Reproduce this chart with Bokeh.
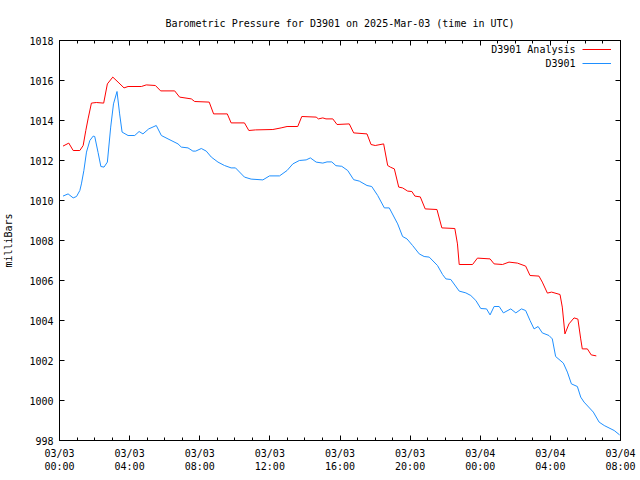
import pandas as pd
from bokeh.plotting import figure
from bokeh.models import (Range1d, LinearAxis, FixedTicker, CustomJSTickFormatter,
                          Legend, LegendItem, Label, ColumnDataSource)
from bokeh.core.properties import value
from bokeh.embed import file_html
from bokeh.resources import INLINE

TITLE = "Barometric Pressure for D3901 on 2025-Mar-03 (time in UTC)"
Y_LABEL = "milliBars"
SERIES_NAMES = ["D3901 Analysis", "D3901"]

# hours after 2025-03-03 00:00 UTC
analysis_hours = [0.2, 0.53, 0.78, 1.16, 1.35, 1.5, 1.63, 1.82, 2.1, 2.52, 2.73, 3.04, 3.34, 3.68,
                  3.91, 4.67, 4.95, 5.47, 5.77, 6.57, 6.85, 7.52, 7.71, 8.54, 8.79, 9.57, 9.79,
                  10.55, 10.8, 11.18, 12.17, 12.64, 12.98, 13.59, 13.82, 14.64, 14.77, 15.02,
                  15.2, 15.59, 15.83, 16.53, 16.78, 17.54, 17.77, 18.01, 18.49, 18.72, 18.87,
                  19.1, 19.35, 19.57, 19.86, 20.1, 20.27, 20.58, 20.86, 21.53, 21.81, 22.55,
                  22.7, 22.8, 23.56, 23.84, 24.56, 24.79, 25.27, 25.64, 26.12, 26.59, 26.84,
                  27.35, 27.54, 27.83, 28.07, 28.55, 28.68, 28.83, 29.06, 29.35, 29.57, 29.73,
                  29.82, 30.11, 30.33, 30.62]
analysis_mbar = [1012.72, 1012.87, 1012.5, 1012.5, 1012.75, 1013.5, 1014.08, 1014.87, 1014.9,
                 1014.87, 1015.83, 1016.17, 1015.92, 1015.63, 1015.7, 1015.7, 1015.78, 1015.75,
                 1015.48, 1015.48, 1015.17, 1015.08, 1014.95, 1014.92, 1014.33, 1014.33,
                 1013.88, 1013.88, 1013.5, 1013.53, 1013.55, 1013.63, 1013.7, 1013.7, 1014.2,
                 1014.17, 1014.08, 1014.13, 1014.08, 1014.08, 1013.8, 1013.83, 1013.38,
                 1013.33, 1012.8, 1012.75, 1012.83, 1011.75, 1011.67, 1011.58, 1010.67,
                 1010.63, 1010.47, 1010.45, 1010.22, 1010.18, 1009.58, 1009.55, 1008.63,
                 1008.6, 1007.83, 1006.8, 1006.8, 1007.12, 1007.08, 1006.83, 1006.8, 1006.92,
                 1006.87, 1006.72, 1006.25, 1006.22, 1005.92, 1005.37, 1005.42, 1005.3,
                 1004.67, 1003.33, 1003.83, 1004.13, 1004.07, 1003.08, 1002.58, 1002.58,
                 1002.28, 1002.23]

obs_hours = [0.2, 0.49, 0.78, 0.97, 1.16, 1.25, 1.39, 1.54, 1.73, 1.92, 2.01, 2.2, 2.36, 2.54,
             2.73, 2.92, 3.08, 3.28, 3.43, 3.57, 3.91, 4.29, 4.54, 4.76, 5.09, 5.52, 5.81, 6.19,
             6.76, 6.95, 7.33, 7.61, 7.77, 8.09, 8.37, 8.66, 9.04, 9.41, 9.79, 10.04, 10.55,
             10.93, 11.6, 11.98, 12.55, 12.98, 13.31, 13.68, 14.07, 14.31, 14.64, 15.02, 15.26,
             15.53, 15.77, 16.1, 16.44, 16.78, 17.1, 17.54, 17.81, 18.15, 18.53, 18.81, 19.29,
             19.57, 19.82, 20.14, 20.52, 20.8, 21.09, 21.56, 21.85, 22.04, 22.32, 22.8, 23.18,
             23.46, 23.75, 24.03, 24.36, 24.56, 24.79, 25.08, 25.32, 25.74, 26.03, 26.35,
             26.59, 26.84, 27.07, 27.3, 27.54, 27.92, 28.11, 28.3, 28.74, 28.97, 29.2, 29.54,
             29.73, 29.92, 30.45, 30.78, 31.07, 31.64, 31.95]
obs_mbar = [1010.22, 1010.33, 1010.13, 1010.2, 1010.5, 1010.83, 1011.5, 1012.42, 1013.0,
            1013.22, 1013.2, 1012.4, 1011.7, 1011.67, 1011.92, 1013.67, 1014.83, 1015.45,
            1014.33, 1013.42, 1013.25, 1013.25, 1013.45, 1013.33, 1013.58, 1013.75, 1013.25,
            1013.08, 1012.83, 1012.67, 1012.63, 1012.47, 1012.47, 1012.6, 1012.47, 1012.17,
            1011.92, 1011.75, 1011.63, 1011.63, 1011.17, 1011.07, 1011.03, 1011.23, 1011.23,
            1011.5, 1011.83, 1012.0, 1012.03, 1012.13, 1011.92, 1011.87, 1011.93, 1011.93,
            1011.74, 1011.71, 1011.5, 1011.04, 1010.97, 1010.75, 1010.7, 1010.25, 1009.63,
            1009.63, 1008.83, 1008.2, 1008.08, 1007.75, 1007.33, 1007.2, 1007.17, 1006.75,
            1006.3, 1006.08, 1006.05, 1005.47, 1005.38, 1005.25, 1005.0, 1004.6, 1004.58,
            1004.28, 1004.7, 1004.7, 1004.38, 1004.58, 1004.38, 1004.58, 1004.5, 1004.0,
            1003.58, 1003.7, 1003.38, 1003.25, 1003.08, 1002.2, 1001.87, 1001.42, 1000.83,
            1000.7, 1000.17, 999.92, 999.42, 998.92, 998.75, 998.5, 998.28]

x_tick_hours = [0, 4, 8, 12, 16, 20, 24, 28, 32]
x_tick_labels = ["03/03\n00:00", "03/03\n04:00", "03/03\n08:00", "03/03\n12:00",
                 "03/03\n16:00", "03/03\n20:00", "03/04\n00:00", "03/04\n04:00",
                 "03/04\n08:00"]
x_minor_hours = list(range(0, 33))
y_ticks = [998, 1000, 1002, 1004, 1006, 1008, 1010, 1012, 1014, 1016, 1018]

FONT = "DejaVu Sans Mono"
FS = "10px"

p = figure(width=640, height=480, x_range=Range1d(0, 32), y_range=Range1d(998, 1018),
           output_backend="svg", toolbar_location=None, title=TITLE,
           min_border_left=58, min_border_right=20, min_border_top=40, min_border_bottom=40)
p.background_fill_color = "white"
p.border_fill_color = "white"
p.xgrid.visible = False
p.ygrid.visible = False
p.outline_line_color = "black"
p.outline_line_alpha = 1.0
p.outline_line_width = 1

p.title.text_font = FONT
p.title.text_font_size = FS
p.title.text_font_style = "normal"
p.title.align = "center"
p.title.text_color = "black"
p.title.standoff = 24

xticker = FixedTicker(ticks=x_tick_hours, minor_ticks=x_minor_hours)
yticker = FixedTicker(ticks=y_ticks, minor_ticks=[])


def style_axis(ax):
    ax.major_tick_in = 5
    ax.major_tick_out = 0
    ax.minor_tick_in = 3
    ax.minor_tick_out = 0
    ax.axis_line_color = "black"
    ax.major_tick_line_color = "black"
    ax.minor_tick_line_color = "black"
    ax.major_label_text_font = FONT
    ax.major_label_text_font_size = FS
    ax.major_label_text_color = "black"


xa = p.xaxis[0]
xa.ticker = xticker
xa.major_label_overrides = {h: lab for h, lab in zip(x_tick_hours, x_tick_labels)}
style_axis(xa)
xa.major_label_standoff = 7

ya = p.yaxis[0]
ya.ticker = yticker
style_axis(ya)
ya.minor_tick_in = 0
ya.major_label_standoff = 6
ya.axis_label = Y_LABEL
ya.axis_label_text_font = FONT
ya.axis_label_text_font_size = FS
ya.axis_label_text_font_style = "normal"
ya.axis_label_text_color = "black"
ya.axis_label_standoff = 12

blank = CustomJSTickFormatter(code="return ''")
top = LinearAxis(ticker=xticker, formatter=blank, major_label_standoff=0)
style_axis(top)
p.add_layout(top, "above")
right = LinearAxis(ticker=yticker, formatter=blank, major_label_standoff=0)
style_axis(right)
right.minor_tick_in = 0
p.add_layout(right, "right")

src_a = ColumnDataSource(dict(x=analysis_hours, y=analysis_mbar))
src_o = ColumnDataSource(dict(x=obs_hours, y=obs_mbar))
r_a = p.line("x", "y", source=src_a, line_color="#ff0000", line_width=1)
r_o = p.line("x", "y", source=src_o, line_color="#1e8fff", line_width=1)

legend = Legend(items=[LegendItem(label=value(""), renderers=[r_a]),
                       LegendItem(label=value(""), renderers=[r_o])],
                location=(523, 370), orientation="vertical",
                glyph_width=29, glyph_height=14, label_width=0, label_standoff=0,
                padding=0, margin=0, spacing=0, border_line_color=None,
                background_fill_alpha=0, label_text_font_size="1px")
p.add_layout(legend, "center")

for i, name in enumerate(SERIES_NAMES):
    p.add_layout(Label(x=516, y=391 - 14 * i, x_units="screen", y_units="screen", text=name,
                       text_align="right", text_baseline="middle", text_font=FONT,
                       text_font_size=FS, text_color="black"))

open("out.html", "w").write(file_html(p, INLINE))
